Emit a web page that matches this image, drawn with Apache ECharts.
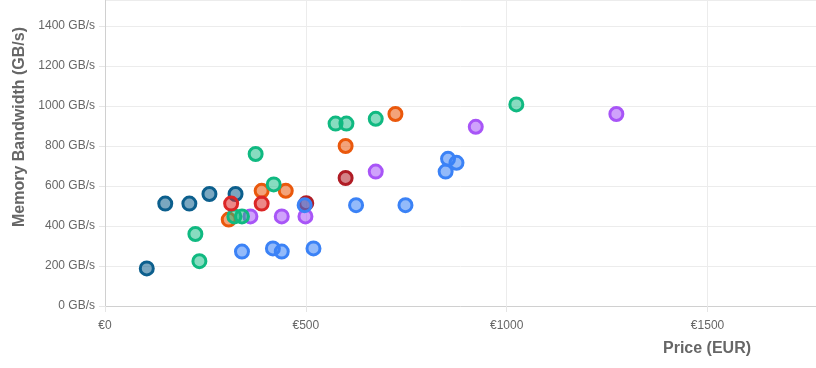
<!DOCTYPE html>
<html><head><meta charset="utf-8">
<script src="https://cdn.jsdelivr.net/npm/echarts@6/dist/echarts.min.js"></script>
<style>html,body{margin:0;padding:0;background:#fff}#c{width:816px;height:368px}</style>
</head><body><div id="c"></div>
<script>
// [price EUR, bandwidth GB/s]
const darkBlue = [[104,188],[150,512],[210,512],[260,560],[325,560]];
const orange   = [[308,432],[390,576],[450,576],[599,800],[723,960]];
const purple   = [[362,448],[440,448],[499,448],[674,672],[923,896],[1273,960]];
const green    = [[225,360],[235,224],[322,448],[341,448],[375,760],[420,608],[574,912],[601,912],[674,936],[1024,1008]];
const red      = [[314,512],[390,512]];
const darkRed  = [[501,514],[599,640]];
const blue     = [[341,272],[418,288],[440,272],[519,288],[497,504],[625,504],[748,504],[848,672],[854,736],[875,716]];
const xTicks = [0,500,1000,1500];
const yTicks = [0,200,400,600,800,1000,1200,1400];

const groups = [
  {name:'A', data:darkBlue, c:'#0c5f8d', f:'rgba(12,95,141,0.55)'},
  {name:'B', data:orange, c:'#ea580c', f:'rgba(234,88,12,0.55)'},
  {name:'C', data:purple, c:'#a855f7', f:'rgba(168,85,247,0.55)'},
  {name:'D', data:green, c:'#10b981', f:'rgba(16,185,129,0.5)'},
  {name:'E', data:red, c:'#dc2626', f:'rgba(220,38,38,0.55)'},
  {name:'F', data:darkRed, c:'#b01c25', f:'rgba(176,28,37,0.55)'},
  {name:'G', data:blue, c:'#3b82f6', f:'rgba(59,130,246,0.55)'}
];
const font = '"Liberation Sans", Arial, Helvetica, sans-serif';
const chart = echarts.init(document.getElementById('c'));
chart.setOption({
  animation:false,
  grid:{left:105,right:0,top:0,bottom:62,containLabel:false},
  xAxis:{type:'value',min:0,max:1770,interval:500,
    axisLine:{show:true,lineStyle:{color:'#d0d0d0'}},
    axisTick:{show:true,length:6,lineStyle:{color:'#e5e5e5'}},
    splitLine:{show:true,lineStyle:{color:'#ececec'}},
    axisLabel:{color:'#666',fontFamily:font,fontSize:12,margin:14,showMaxLabel:false,
      formatter:v=>xTicks.includes(v)?'€'+v:''}},
  yAxis:{type:'value',min:0,max:1530,interval:200,
    axisLine:{show:true,lineStyle:{color:'#d0d0d0'}},
    axisTick:{show:true,length:6,lineStyle:{color:'#e5e5e5'}},
    splitLine:{show:true,lineStyle:{color:'#ececec'}},
    axisLabel:{color:'#666',fontFamily:font,fontSize:12,margin:10,showMaxLabel:false,
      formatter:v=>yTicks.includes(v)?v+' GB/s':''}},
  graphic:[
    {type:'text',x:20,y:127,rotation:Math.PI/2,style:{text:'Memory Bandwidth (GB/s)',fill:'#666',font:'bold 16px '+font,textAlign:'center',textVerticalAlign:'middle'}},
    {type:'text',x:707,y:349,style:{text:'Price (EUR)',fill:'#666',font:'bold 16px '+font,textAlign:'center',textVerticalAlign:'middle'}}
  ],
  series:groups.map(g=>({type:'scatter',name:g.name,data:g.data,symbolSize:13,
    itemStyle:{color:g.f,borderColor:g.c,borderWidth:3,opacity:1}}))
});
</script></body></html>
